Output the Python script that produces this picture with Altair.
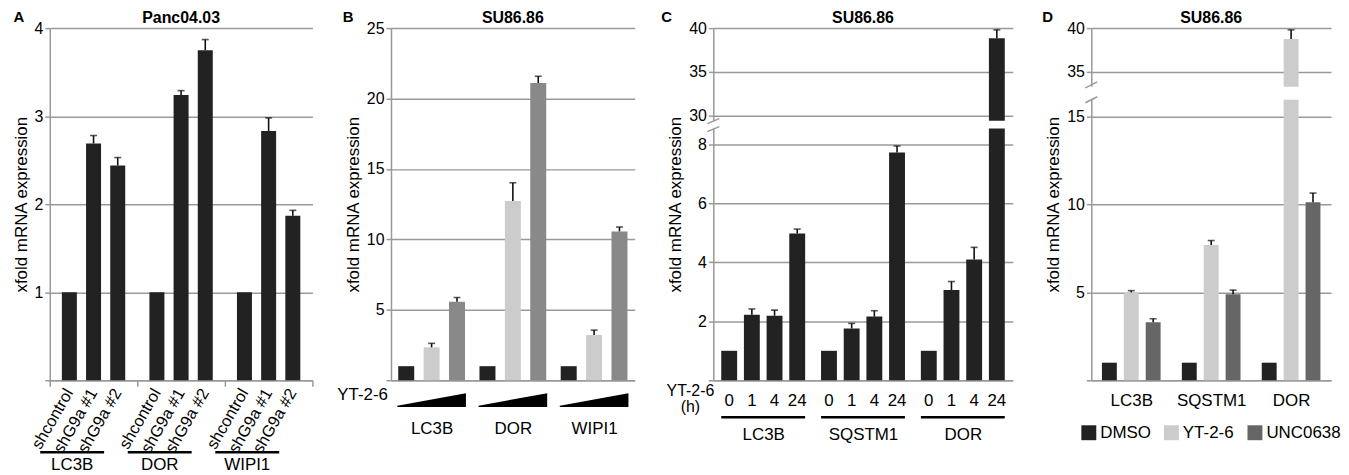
import altair as alt
import pandas as pd

FONT = "Liberation Sans"
GRID = "#999999"
H = 354

# ---------------- data ----------------
A_groups = ["LC3B", "DOR", "WIPI1"]
A_conds = ["shcontrol", "shG9a #1", "shG9a #2"]
A_values = [[1.0, 2.69, 2.44], [1.0, 3.24, 3.75], [1.0, 2.83, 1.87]]
A_errors = [[0.0, 0.09, 0.09], [0.0, 0.05, 0.12], [0.0, 0.15, 0.06]]

B_groups = ["LC3B", "DOR", "WIPI1"]
B_conds = ["DMSO", "YT-2-6 low", "YT-2-6 high"]
B_colors = ["#222222", "#cccccc", "#898989"]
B_values = [[1.0, 2.34, 5.57], [1.0, 12.73, 21.1], [1.0, 3.21, 10.57]]
B_errors = [[0.0, 0.28, 0.31], [0.0, 1.29, 0.48], [0.0, 0.35, 0.31]]

C_groups = ["LC3B", "SQSTM1", "DOR"]
C_hours = ["0", "1", "4", "24"]
C_values = [[1.0, 2.22, 2.19, 4.98], [1.0, 1.76, 2.16, 7.73], [1.0, 3.06, 4.10, 38.83]]
C_errors = [[0.0, 0.20, 0.19, 0.15], [0.0, 0.17, 0.20, 0.22], [0.0, 0.29, 0.41, 0.97]]

D_groups = ["LC3B", "SQSTM1", "DOR"]
D_treat = ["DMSO", "YT-2-6", "UNC0638"]
D_colors = ["#222222", "#cccccc", "#666666"]
D_values = [[1.0, 5.0, 3.3], [1.0, 7.7, 4.89], [1.0, 38.75, 10.13]]
D_errors = [[0.0, 0.10, 0.20], [0.0, 0.25, 0.24], [0.0, 1.05, 0.52]]

TITLES = ["Panc04.03", "SU86.86", "SU86.86", "SU86.86"]
LETTERS = ["A", "B", "C", "D"]


def long_df(groups, conds, values, errors):
    rows = []
    for g, vals, errs in zip(groups, values, errors):
        for c, v, e in zip(conds, vals, errs):
            rows.append({"group": g, "cond": c, "value": v, "err": e, "upper": v + e})
    return pd.DataFrame(rows)


def y_axis(values):
    return alt.Axis(values=values, title="xfold mRNA expression", grid=True, gridColor=GRID,
                    gridWidth=1.5, domainColor=GRID, domainWidth=1.5, ticks=True, tickColor=GRID,
                    tickWidth=1.5, tickSize=5, labelFont=FONT, labelFontSize=16, labelColor="black",
                    labelPadding=2, labelExpr="datum.value == 0 ? '' : datum.label",
                    titleFont=FONT, titleFontSize=17, titleFontWeight="normal", titleColor="black",
                    titlePadding=4)


def x_axis(label_padding, ticks=False, label_offset=0):
    return alt.Axis(title=None, labelAngle=0, labelFont=FONT, labelFontSize=17, labelColor="black",
                    labelPadding=label_padding, labelOffset=label_offset, ticks=ticks, tickSize=6,
                    tickColor=GRID, tickWidth=1.5, tickBand="extent", domainColor=GRID,
                    domainWidth=1.5, grid=False)


one = pd.DataFrame({"k": [0]})


def header(letter_txt, letter_dx, title_txt, width):
    let = alt.Chart(one).mark_text(text=letter_txt, font=FONT, fontSize=15, fontWeight="bold",
                                   color="black", align="center", baseline="middle").encode(
        x=alt.value(letter_dx), y=alt.value(-11))
    tit = alt.Chart(one).mark_text(text=title_txt, font=FONT, fontSize=16, fontWeight="bold",
                                   color="black", align="center", baseline="middle").encode(
        x=alt.value(width / 2), y=alt.value(-10))
    return [let, tit]


def panel(df, groups, conds, y_domain, y_values, pad_in, pad_out, xax, y_range=None, color=None):
    if y_range is None:
        ysc = alt.Scale(domain=y_domain, nice=False, zero=True)
    else:
        ysc = alt.Scale(domain=y_domain, range=y_range, nice=False, zero=True)
    yax = y_axis(y_values)
    x = alt.X("group:N", sort=groups, scale=alt.Scale(paddingInner=0, paddingOuter=0), axis=xax)
    xo = alt.XOffset("cond:N", sort=conds, scale=alt.Scale(paddingInner=pad_in, paddingOuter=pad_out))
    base = alt.Chart(df)
    if color is None:
        bars = base.mark_bar(color="#222222").encode(x=x, xOffset=xo, y=alt.Y("value:Q", scale=ysc, axis=yax))
    else:
        bars = base.mark_bar().encode(x=x, xOffset=xo, y=alt.Y("value:Q", scale=ysc, axis=yax), color=color)
    err = base.transform_filter("datum.err > 0").mark_rule(color="#111111", strokeWidth=1.6).encode(
        x=x, xOffset=xo, y=alt.Y("value:Q", scale=ysc, axis=yax), y2="upper:Q")
    cap = base.transform_filter("datum.err > 0").mark_tick(color="#111111", thickness=1.6, size=7,
                                                           orient="horizontal").encode(
        x=x, xOffset=xo, y=alt.Y("upper:Q", scale=ysc, axis=yax))
    return [bars, err, cap], x, xo, ysc, yax


# ---------------- Panel A ----------------
dfA = long_df(A_groups, A_conds, A_values, A_errors)
WA = 264
layA, xA, xoA, _, _ = panel(dfA, A_groups, A_conds, [0, 4], [0, 1, 2, 3, 4],
                            0.38, 0.5, x_axis(71, ticks=True, label_offset=-22))
condA = alt.Chart(dfA).mark_text(font=FONT, fontSize=16.5, angle=300, align="right", baseline="middle",
                                 color="black", xOffset=9).encode(
    x=xA, xOffset=xoA, y=alt.value(H + 10), text="cond:N")
lineA = alt.Chart(dfA).transform_filter(alt.datum.cond == A_conds[0]).mark_bar(
    color="black", width=alt.RelativeBandSize(0.73), xOffset=-21.5).encode(
    x=xA, y=alt.value(H + 71), y2=alt.value(H + 73.5))
pA = alt.layer(*layA, condA, lineA, *header(LETTERS[0], -31, TITLES[0], WA)).properties(width=WA, height=H)

# ---------------- Panel B ----------------
dfB = long_df(B_groups, B_conds, B_values, B_errors)
WB = 245
colB = alt.Color("cond:N", sort=B_conds, scale=alt.Scale(domain=B_conds, range=B_colors), legend=None)
layB, xB, xoB, _, _ = panel(dfB, B_groups, B_conds, [0, 25], [0, 5, 10, 15, 20, 25],
                            0.37, 0.285, x_axis(41), color=colB)
WEDGE = "M -1 0.16 L 1 -0.2 L 1 0.2 L -1 0.2 Z"
wedgeB = alt.Chart(dfB).transform_filter(alt.datum.cond == B_conds[0]).mark_point(
    shape=WEDGE, filled=True, size=4761, color="black", opacity=1, strokeWidth=0).encode(
    x=xB, y=alt.value(H + 20))
ytB = alt.Chart(one).mark_text(text="YT-2-6", font=FONT, fontSize=17, align="right",
                               baseline="middle", color="black").encode(x=alt.value(-3), y=alt.value(H + 15))
pB = alt.layer(*layB, wedgeB, ytB, *header(LETTERS[1], -43, TITLES[1], WB)).properties(width=WB, height=H)

# ---------------- Panel C ----------------
dfC = long_df(C_groups, C_hours, C_values, C_errors)
WC = 301
C_break = [8.54, 29.43]
layC, xC, xoC, ysC, yaxC = panel(dfC, C_groups, C_hours, [0, C_break[0], C_break[1], 40],
                                 [0, 2, 4, 6, 8, 30, 35, 40], 0.3, 0.35, x_axis(47),
                                 y_range=[H, 101, 93, 0])
maskC = alt.Chart(one).mark_rect(color="white").encode(
    x=alt.value(-3), x2=alt.value(WC), y=alt.datum(C_break[0], scale=ysC, axis=yaxC), y2=alt.datum(C_break[1]))
brkC1 = alt.Chart(one).mark_rule(color=GRID, strokeWidth=1.5).encode(
    x=alt.value(-6), x2=alt.value(6), y=alt.value(96), y2=alt.value(91))
brkC2 = alt.Chart(one).mark_rule(color=GRID, strokeWidth=1.5).encode(
    x=alt.value(-6), x2=alt.value(6), y=alt.value(104), y2=alt.value(99))
hoursC = alt.Chart(dfC).mark_text(font=FONT, fontSize=17, align="center", baseline="middle",
                                  color="black").encode(x=xC, xOffset=xoC, y=alt.value(H + 21), text="cond:N")
lineC = alt.Chart(dfC).transform_filter(alt.datum.cond == C_hours[0]).mark_bar(
    color="black", width=alt.RelativeBandSize(0.84)).encode(
    x=xC, y=alt.value(H + 36), y2=alt.value(H + 38.5))
ytC1 = alt.Chart(one).mark_text(text="YT-2-6", font=FONT, fontSize=16, align="center",
                                baseline="middle", color="black").encode(x=alt.value(-23), y=alt.value(H + 11))
ytC2 = alt.Chart(one).mark_text(text="(h)", font=FONT, fontSize=16, align="center",
                                baseline="middle", color="black").encode(x=alt.value(-23), y=alt.value(H + 27))
pC = alt.layer(*layC, maskC, brkC1, brkC2, hoursC, lineC, ytC1, ytC2,
               *header(LETTERS[2], -47, TITLES[2], WC)).properties(width=WC, height=H)

# ---------------- Panel D ----------------
dfD = long_df(D_groups, D_treat, D_values, D_errors)
WD = 241
D_break = [15.96, 33.3]
colD = alt.Color("cond:N", sort=D_treat, scale=alt.Scale(domain=D_treat, range=D_colors),
                 legend=alt.Legend(title=None, orient="none", direction="horizontal", legendX=-11,
                                   legendY=H + 44, padding=0, symbolType="square", symbolSize=225,
                                   symbolStrokeWidth=0, symbolOpacity=1, labelFont=FONT,
                                   labelFontSize=17, labelColor="black", labelOffset=3,
                                   columnPadding=12))
layD, xD, xoD, ysD, yaxD = panel(dfD, D_groups, D_treat, [0, D_break[0], D_break[1], 40],
                                 [0, 5, 10, 15, 35, 40], 0.32, 0.485, x_axis(12),
                                 y_range=[H, 72, 59, 0], color=colD)
maskD = alt.Chart(one).mark_rect(color="white").encode(
    x=alt.value(-3), x2=alt.value(WD), y=alt.datum(D_break[0], scale=ysD, axis=yaxD), y2=alt.datum(D_break[1]))
brkD1 = alt.Chart(one).mark_rule(color=GRID, strokeWidth=1.5).encode(
    x=alt.value(-6), x2=alt.value(6), y=alt.value(60), y2=alt.value(54))
brkD2 = alt.Chart(one).mark_rule(color=GRID, strokeWidth=1.5).encode(
    x=alt.value(-6), x2=alt.value(6), y=alt.value(75), y2=alt.value(69))
pD = alt.layer(*layD, maskD, brkD1, brkD2, *header(LETTERS[3], -44, TITLES[3], WD)).properties(width=WD, height=H)

chart = alt.hconcat(pA, pB, pC, pD, spacing=79, bounds="flush").resolve_scale(
    x="independent", y="independent", color="independent", xOffset="independent"
).configure(font=FONT, padding={"left": 4, "top": 1, "right": 0, "bottom": 0}).configure_view(stroke=None)

chart.save("out.html", embed_options={"renderer": "svg", "actions": False})
